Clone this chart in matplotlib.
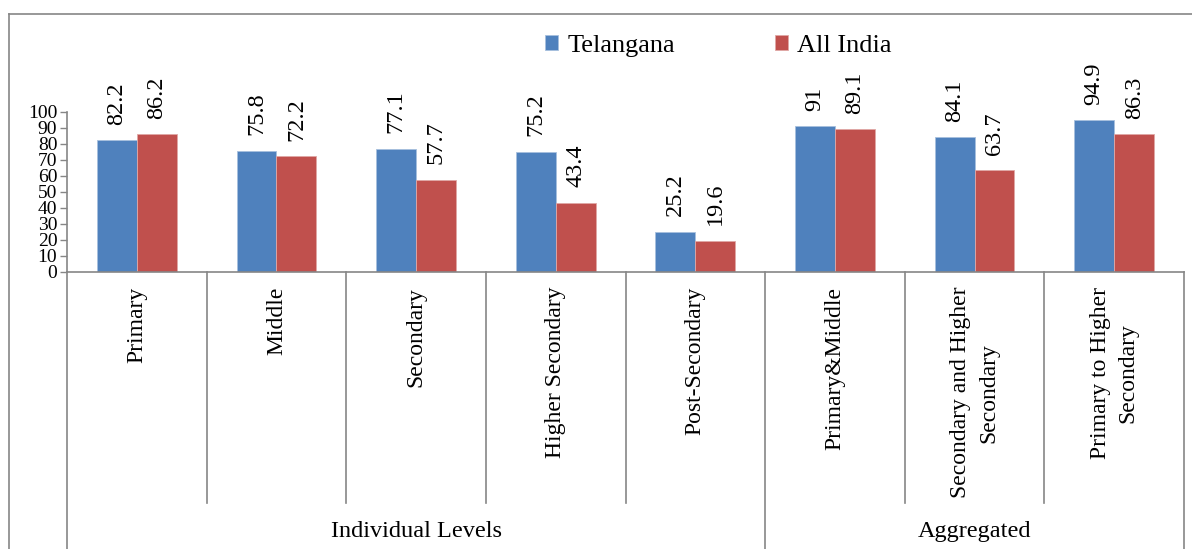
import matplotlib
matplotlib.use('Agg')
import matplotlib.pyplot as plt
import numpy as np
from matplotlib.lines import Line2D

plt.rcParams['font.family'] = ['Liberation Serif', 'DejaVu Serif']

# data
levels = ['Primary', 'Middle', 'Secondary', 'Higher Secondary', 'Post-Secondary',
          'Primary&Middle', 'Secondary and Higher\nSecondary', 'Primary to Higher\nSecondary']
telangana = [82.2, 75.8, 77.1, 75.2, 25.2, 91, 84.1, 94.9]
all_india = [86.2, 72.2, 57.7, 43.4, 19.6, 89.1, 63.7, 86.3]
group_names = ['Individual Levels', 'Aggregated']
group_sizes = [5, 3]

BLUE = '#4F81BD'
RED = '#C0504D'
GRID = '#868686'
W, H = 1192, 549

fig = plt.figure(figsize=(W / 100, H / 100), dpi=100)
# axes box in pixels: x 67..1184, y(0)=272, y(100)=112
ax = fig.add_axes([67 / W, (H - 272) / H, (1184 - 67) / W, 160 / H])

x = np.arange(len(levels))
bw = 0.286
b1 = ax.bar(x - bw / 2, telangana, bw, color=BLUE, edgecolor='#A7C0DE', linewidth=0.6, label='Telangana')
b2 = ax.bar(x + bw / 2, all_india, bw, color=RED, edgecolor='#E0A8A6', linewidth=0.6, label='All India')

for bars, vals in [(b1, telangana), (b2, all_india)]:
    for rect, v in zip(bars, vals):
        ax.annotate(f'{v:g}', (rect.get_x() + rect.get_width() / 2, v), xytext=(0, 11),
                    textcoords='offset points', rotation=90, ha='center', va='bottom',
                    fontsize=17.5, annotation_clip=False)

ax.set_xlim(-0.5, len(levels) - 0.5)
ax.set_ylim(0, 100)
ax.set_yticks(range(0, 101, 10))
ax.tick_params(axis='y', labelsize=14, length=5, width=1, color=GRID, pad=2)
ax.set_xticks([])
for s in ['top', 'right']:
    ax.spines[s].set_visible(False)
for s in ['left', 'bottom']:
    ax.spines[s].set_color(GRID)
    ax.spines[s].set_linewidth(1.2)

# multi-level category axis
px = 1 / 160  # one pixel in axes-fraction units (vertical)
trans = ax.get_xaxis_transform()
boundaries = np.cumsum([0] + group_sizes) - 0.5
for k in range(len(levels) + 1):
    xb = k - 0.5
    ybot = -(549 - 272) * px if xb in boundaries else -(503 - 272) * px
    ax.add_line(Line2D([xb, xb], [0, ybot], transform=trans, color=GRID, lw=1.2, clip_on=False))

for i, name in enumerate(levels):
    ax.text(i, -(287 - 272) * px, name, transform=trans, rotation=90, ha='center', va='top',
            multialignment='center', fontsize=17, linespacing=1.42)

for g, name in enumerate(group_names):
    cx = (boundaries[g] + boundaries[g + 1]) / 2
    ax.text(cx, -(531 - 272) * px, name, transform=trans, ha='center', va='center', fontsize=17.5)

# outer chart frame (top and left visible)
fig.add_artist(Line2D([9 / W, 9 / W], [0, 1 - 14 / H], color=GRID, lw=1.2))
fig.add_artist(Line2D([9 / W, 1], [1 - 14 / H, 1 - 14 / H], color=GRID, lw=1.2))

fig.legend(handles=[b1, b2], loc='center left', bbox_to_anchor=(545 / W, 1 - 46 / H), ncol=2,
           frameon=False, fontsize=19, handlelength=0.5, handleheight=0.5, handletextpad=0.34,
           columnspacing=3.8, borderaxespad=0, borderpad=0)

fig.savefig('out.png', dpi=100)
